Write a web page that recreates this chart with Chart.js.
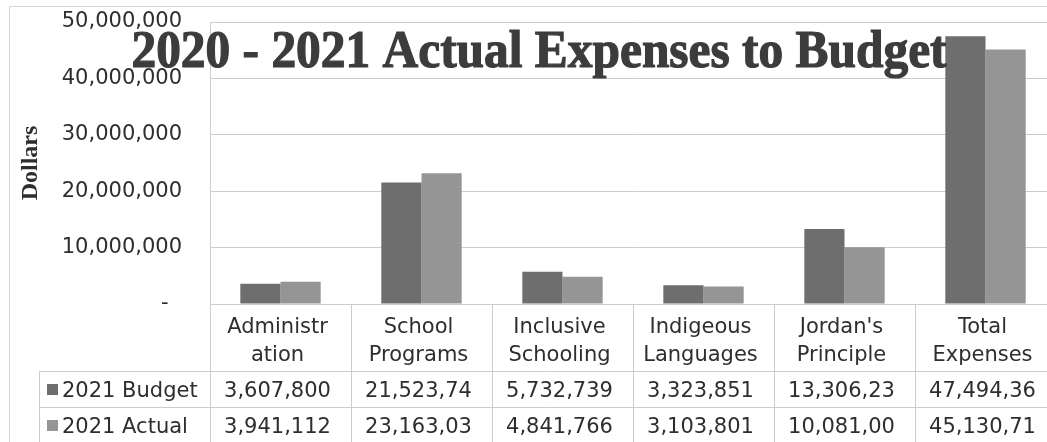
<!DOCTYPE html>
<html>
<head>
<meta charset="utf-8">
<script src="https://cdn.jsdelivr.net/npm/chart.js@4/dist/chart.umd.min.js"></script>
<style>
  html, body { margin: 0; padding: 0; background: #ffffff; overflow: hidden; }
  #wrap { width: 1056px; height: 442px; position: relative; }
</style>
</head>
<body>
<div id="wrap"><canvas id="c" width="1056" height="442"></canvas></div>
<script>
// Expense categories (wrapped as they appear in the table header)
const categories = [
  ['Administr', 'ation'],
  ['School', 'Programs'],
  ['Inclusive', 'Schooling'],
  ['Indigeous', 'Languages'],
  ["Jordan's", 'Principle'],
  ['Total', 'Expenses']
];
const seriesNames = ['2021 Budget', '2021 Actual'];
const budget2021 = [3607800, 21523740, 5732739, 3323851, 13306230, 47494360];
const actual2021 = [3941112, 23163030, 4841766, 3103801, 10081000, 45130710];
const yTicks = [0, 10000000, 20000000, 30000000, 40000000, 50000000];

const budgetColor = '#6e6e6e';
const actualColor = '#959595';
const lineColor = '#cccccc';
const textColor = '#2e2e2e';
const tableFont = '21px "DejaVu Sans"';

// Table cells show at most 9 characters, like a narrow spreadsheet column
function cellText(v) {
  return v.toLocaleString('en-US').slice(0, 9);
}

const dataTablePlugin = {
  id: 'dataTable',
  afterDraw(chart) {
    const ctx = chart.ctx;
    const xs = chart.scales.x;
    const area = chart.chartArea;
    const top = area.bottom;
    const headerBottom = 371;
    const row1Bottom = 407;
    const bottom = chart.height;
    const rowLeft = 39;
    const n = categories.length;
    const half = (xs.getPixelForValue(1) - xs.getPixelForValue(0)) / 2;

    ctx.save();
    ctx.strokeStyle = lineColor;
    ctx.lineWidth = 1;
    // vertical column separators
    for (let i = 0; i < n; i++) {
      const x = Math.round(xs.getPixelForValue(i) - half) + 0.5;
      ctx.beginPath();
      ctx.moveTo(x, top);
      ctx.lineTo(x, bottom);
      ctx.stroke();
    }
    ctx.beginPath();
    ctx.moveTo(rowLeft + 0.5, headerBottom);
    ctx.lineTo(rowLeft + 0.5, bottom);
    ctx.stroke();
    // horizontal row separators
    [headerBottom, row1Bottom].forEach(y => {
      ctx.beginPath();
      ctx.moveTo(rowLeft, y + 0.5);
      ctx.lineTo(chart.width, y + 0.5);
      ctx.stroke();
    });

    ctx.fillStyle = textColor;
    ctx.font = tableFont;
    ctx.textAlign = 'center';
    ctx.textBaseline = 'alphabetic';
    // header: category names
    categories.forEach((lines, i) => {
      const cx = xs.getPixelForValue(i) - 3;
      lines.forEach((t, k) => ctx.fillText(t, cx, 333 + k * 28));
    });
    // series rows
    const rows = [budget2021, actual2021];
    const colors = [budgetColor, actualColor];
    const baselines = [397, 433];
    rows.forEach((vals, r) => {
      ctx.fillStyle = colors[r];
      ctx.fillRect(47, baselines[r] - 13, 11, 11);
      ctx.fillStyle = textColor;
      ctx.textAlign = 'left';
      ctx.fillText(seriesNames[r], 62, baselines[r]);
      ctx.textAlign = 'center';
      vals.forEach((v, i) => ctx.fillText(cellText(v), xs.getPixelForValue(i) - 3, baselines[r]));
    });

    // chart title, slightly condensed and heavy
    ctx.save();
    ctx.translate(539, 67);
    ctx.scale(0.95, 1);
    ctx.font = 'bold 52px "Liberation Serif"';
    ctx.fillStyle = '#3c3c3c';
    ctx.strokeStyle = '#3c3c3c';
    ctx.lineWidth = 1.2;
    ctx.textAlign = 'center';
    ctx.fillText('2020 - 2021 Actual Expenses to Budget', 0, 0);
    ctx.strokeText('2020 - 2021 Actual Expenses to Budget', 0, 0);
    ctx.restore();

    // outer chart frame
    ctx.strokeStyle = '#d6d6d6';
    ctx.lineWidth = 1;
    ctx.beginPath();
    ctx.moveTo(9.5, bottom);
    ctx.lineTo(9.5, 6.5);
    ctx.lineTo(chart.width, 6.5);
    ctx.stroke();
    ctx.restore();
  }
};

new Chart(document.getElementById('c'), {
  type: 'bar',
  data: {
    labels: categories.map(l => l.join('')),
    datasets: [
      { label: seriesNames[0], data: budget2021, backgroundColor: budgetColor,
        categoryPercentage: 0.57, barPercentage: 1.0, borderWidth: 0 },
      { label: seriesNames[1], data: actual2021, backgroundColor: actualColor,
        categoryPercentage: 0.57, barPercentage: 1.0, borderWidth: 0 }
    ]
  },
  options: {
    responsive: false,
    animation: false,
    devicePixelRatio: 1,
    layout: { padding: { top: 22, bottom: 138, left: 0, right: 0 } },
    plugins: {
      legend: { display: false },
      title: { display: false },
      tooltip: { enabled: false }
    },
    scales: {
      x: { display: false },
      y: {
        min: 0,
        max: 50000000,
        afterFit(scale) {
          scale.width = 210;
          scale.paddingTop = 0;
          scale.paddingBottom = 0;
        },
        afterBuildTicks(scale) { scale.ticks = yTicks.map(v => ({ value: v })); },
        ticks: {
          padding: 28,
          color: textColor,
          font: { family: 'DejaVu Sans', size: 21 },
          callback: v => v === 0 ? '-  ' : v.toLocaleString('en-US')
        },
        grid: { color: lineColor, drawTicks: false },
        border: { display: true, color: lineColor },
        title: {
          display: true,
          text: 'Dollars',
          color: textColor,
          font: { family: 'Liberation Serif', size: 24, weight: 'bold' },
          padding: { top: 16, bottom: 0 }
        }
      }
    }
  },
  plugins: [dataTablePlugin]
});
</script>
</body>
</html>
